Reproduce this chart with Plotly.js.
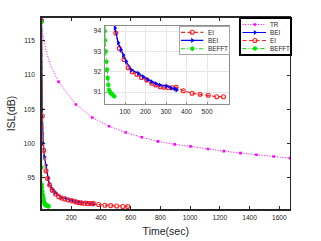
<!DOCTYPE html>
<html>
<head>
<meta charset="utf-8">
<script src="https://cdn.plot.ly/plotly-3.0.1.min.js"></script>
<style>html,body{margin:0;padding:0;background:#fff;}#chart{width:321px;height:241px;}</style>
</head>
<body>
<div id="chart"></div>
<script>
// ---------------- data ----------------
const trTime = [0, 3, 30, 64, 115, 231, 341, 455, 567, 674, 784, 896, 1003, 1120, 1227, 1339, 1446, 1562, 1672];
const trISL  = [118.0, 116.6, 113.6, 111.2, 109.0, 105.7, 103.8, 102.5, 101.6, 100.9, 100.3, 99.85, 99.56, 99.17, 98.87, 98.58, 98.34, 98.09, 97.84];
const trMarked = [1, 0, 0, 0, 1, 1, 1, 1, 1, 1, 1, 1, 1, 1, 1, 1, 1, 1, 1];

const beiTime = [0, 5, 12, 20, 30, 45, 51, 67, 80, 92, 105, 132, 165, 189, 210, 230, 250, 271, 303, 325, 344, 352];
const beiISL  = [118.0, 105.0, 100.0, 98.0, 96.8, 95.0, 94.15, 93.43, 93.08, 92.82, 92.51, 92.08, 91.92, 91.75, 91.62, 91.51, 91.42, 91.34, 91.29, 91.20, 91.15, 91.10];

const eiTime = [0, 5, 15, 30, 41, 55, 72, 95, 116, 135, 157, 180, 206, 230, 250, 271, 290, 310, 330, 349, 384, 427, 466, 506, 547, 580];
const eiISL  = [118.0, 104.0, 99.0, 96.0, 94.85, 93.9, 93.15, 92.6, 92.2, 92.0, 91.87, 91.72, 91.59, 91.43, 91.35, 91.26, 91.24, 91.22, 91.21, 91.23, 91.06, 90.94, 90.89, 90.84, 90.77, 90.77];

const beffTime = [0, 0.5, 1, 2.5, 6, 9, 12, 15.5, 18.5, 22, 27, 32, 38, 43, 48];
const beffISL  = [117.8, 96.5, 94.0, 93.55, 93.0, 92.5, 92.1, 91.7, 91.35, 91.1, 91.0, 90.93, 90.88, 90.83, 90.79];

const mainXTicks = [200, 400, 600, 800, 1000, 1200, 1400, 1600];
const mainYTicks = [95, 100, 105, 110, 115];
const insetXTicks = [100, 200, 300, 400, 500];
const insetYTicks = [91, 92, 93, 94];

const mainLegendNames = ['TR', 'BEI', 'EI', 'BEFFT'];
const insetLegendNames = ['EI', 'BEI', 'BEFFT'];

// ---------------- styles ----------------
const W = 321, H = 241;
const FONT = '"Liberation Sans", Arial, sans-serif';
const TXT = '#262626';
const styles = {
  TR:    {color: '#ff00ff', dash: '1px,1.6px', width: 1, symbol: 'square', size: 2.6, mlw: 0},
  BEI:   {color: '#0000ff', dash: 'solid', width: 1.2, symbol: 'triangle-right', size: 4.5, mlw: 0},
  EI:    {color: '#ff2020', dash: '4px,2.5px', width: 1.2, symbol: 'circle-open', size: 4, mlw: 1.1},
  BEFFT: {color: '#00e600', dash: '4px,2px,1px,2px', width: 1.1, symbol: 'asterisk-open', size: 4, mlw: 1.1}
};
const series = {
  TR: [trTime, trISL], BEI: [beiTime, beiISL], EI: [eiTime, eiISL], BEFFT: [beffTime, beffISL]
};

function xd(l, r) { return [l / W, r / W]; }
function yd(t, b) { return [1 - b / H, 1 - t / H]; }

const mainBox  = {l: 41.5, r: 290, t: 17.7, b: 209.3};
const insetBox = {l: 104.5, r: 229, t: 26, b: 104};
const legA = {l: 240.5, r: 290, t: 18.5, b: 53.5, rows: [24.5, 32.5, 40.5, 48.5], lx0: 242.5, lx1: 266, mx: 255, tx: 268, border: '#000000', bw: 2};
const legB = {l: 179.5, r: 229, t: 26.5, b: 53.5, rows: [32.3, 40.4, 48.7], lx0: 181, lx1: 203.3, mx: 192.3, tx: 206.3, border: '#a6a6a6', bw: 1};

function makeTrace(name, xa, ya, opacities) {
  const s = styles[name];
  const d = series[name];
  return {
    type: 'scatter', mode: 'lines+markers', x: d[0], y: d[1], xaxis: xa, yaxis: ya,
    name: name, showlegend: false, cliponaxis: true, hoverinfo: 'skip',
    line: {color: s.color, width: s.width, dash: s.dash},
    marker: {symbol: s.symbol, size: s.size, color: s.color, opacity: opacities || 1,
             line: {color: s.color, width: s.mlw}}
  };
}

const traces = [];
// main axes
traces.push(makeTrace('TR', 'x', 'y', trMarked));
traces.push(makeTrace('BEI', 'x', 'y'));
traces.push(makeTrace('EI', 'x', 'y'));
traces.push(makeTrace('BEFFT', 'x', 'y'));
// inset axes
traces.push(makeTrace('EI', 'x2', 'y2'));
traces.push(makeTrace('BEI', 'x2', 'y2'));
traces.push(makeTrace('BEFFT', 'x2', 'y2'));

const annotations = [];
function legendSamples(names, L, xa, ya) {
  names.forEach((n, i) => {
    const s = styles[n];
    const yy = L.rows[i];
    traces.push({
      type: 'scatter', mode: 'lines+markers', xaxis: xa, yaxis: ya, showlegend: false, hoverinfo: 'skip',
      x: [L.lx0, L.mx, L.lx1], y: [yy, yy, yy],
      line: {color: s.color, width: s.width, dash: s.dash},
      marker: {symbol: s.symbol, size: s.size, color: s.color, opacity: [0, 1, 0], line: {color: s.color, width: s.mlw}}
    });
    annotations.push({xref: xa, yref: ya, x: L.tx, y: yy, text: n, showarrow: false,
      xanchor: 'left', yanchor: 'middle', font: {family: FONT, size: 6.3, color: TXT}});
  });
}
legendSamples(mainLegendNames, legA, 'x3', 'y3');
legendSamples(insetLegendNames, legB, 'x4', 'y4');

function boxAxis(dom, range, color, lw) {
  return {domain: dom, range: range, showline: true, mirror: true, linecolor: color, linewidth: lw,
          showticklabels: false, ticks: '', showgrid: false, zeroline: false, fixedrange: true};
}

const tickFont = {family: FONT, size: 6.6, color: TXT};
const layout = {
  width: W, height: H, margin: {l: 0, r: 0, t: 0, b: 0, pad: 0},
  paper_bgcolor: '#ffffff', plot_bgcolor: '#ffffff', showlegend: false,
  xaxis: {
    domain: xd(mainBox.l, mainBox.r), range: [0, 1672], tickvals: mainXTicks,
    ticks: 'inside', ticklen: 3, tickwidth: 1, tickcolor: TXT, mirror: 'allticks',
    showline: true, linecolor: TXT, linewidth: 1.3, showgrid: false, zeroline: false,
    tickfont: tickFont, ticklabelstandoff: 1,
    title: {text: 'Time(sec)', font: {family: FONT, size: 10.5, color: TXT}, standoff: 8}
  },
  yaxis: {
    domain: yd(mainBox.t, mainBox.b), range: [90.35, 118.4], tickvals: mainYTicks,
    ticks: 'inside', ticklen: 3, tickwidth: 1, tickcolor: TXT, mirror: 'allticks',
    showline: true, linecolor: TXT, linewidth: 1.3, showgrid: false, zeroline: false,
    tickfont: tickFont, ticklabelstandoff: 4,
    title: {text: 'ISL(dB)', font: {family: FONT, size: 10.5, color: TXT}, standoff: 6}
  },
  xaxis2: {
    domain: xd(insetBox.l, insetBox.r), range: [0, 607], tickvals: insetXTicks, anchor: 'y2',
    ticks: 'inside', ticklen: 2, tickcolor: '#8c8c8c', mirror: true,
    showline: true, linecolor: '#8c8c8c', linewidth: 1, showgrid: true, gridcolor: '#e6e6e6', gridwidth: 1,
    zeroline: false, tickfont: tickFont, ticklabelstandoff: 1
  },
  yaxis2: {
    domain: yd(insetBox.t, insetBox.b), range: [90.41, 94.25], tickvals: insetYTicks, anchor: 'x2',
    ticks: 'inside', ticklen: 2, tickcolor: '#8c8c8c', mirror: true,
    showline: true, linecolor: '#8c8c8c', linewidth: 1, showgrid: true, gridcolor: '#e6e6e6', gridwidth: 1,
    zeroline: false, tickfont: tickFont, ticklabelstandoff: 1
  },
  xaxis3: Object.assign(boxAxis(xd(legA.l, legA.r), [legA.l, legA.r], legA.border, legA.bw), {anchor: 'y3'}),
  yaxis3: Object.assign(boxAxis(yd(legA.t, legA.b), [legA.b, legA.t], legA.border, legA.bw), {anchor: 'x3'}),
  xaxis4: Object.assign(boxAxis(xd(legB.l, legB.r), [legB.l, legB.r], legB.border, legB.bw), {anchor: 'y4'}),
  yaxis4: Object.assign(boxAxis(yd(legB.t, legB.b), [legB.b, legB.t], legB.border, legB.bw), {anchor: 'x4'}),
  annotations: annotations
};

Plotly.newPlot('chart', traces, layout, {staticPlot: true, displayModeBar: false});
</script>
</body>
</html>
